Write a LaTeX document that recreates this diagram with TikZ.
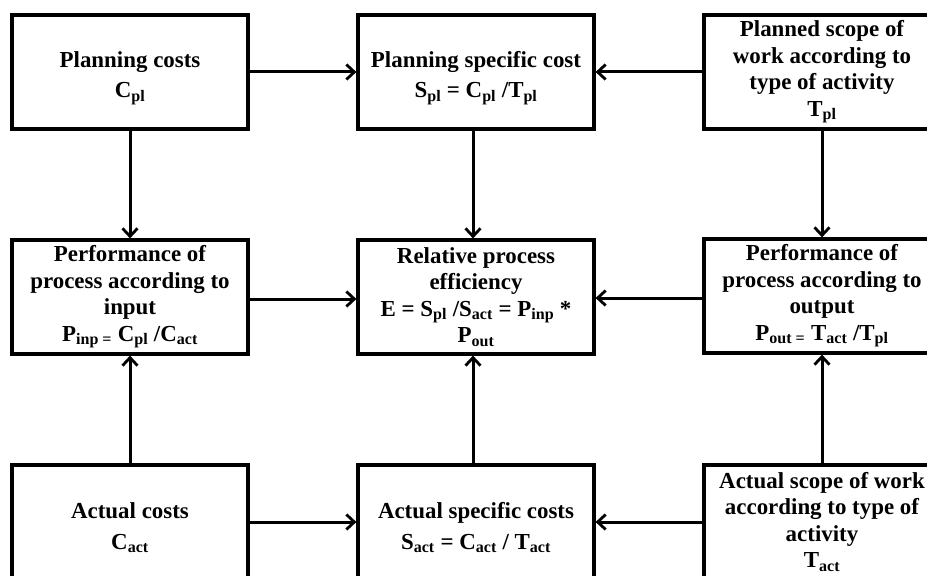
\documentclass[tikz,border=0pt]{standalone}
\usepackage{fontspec}
\setmainfont{Liberation Serif}
\usetikzlibrary{arrows.meta}
\newcommand{\downstrut}{\rule{0pt}{28bp}}
\begin{document}
\begin{tikzpicture}[x=1bp,y=-1bp,
  box/.style={draw=black, line width=3.2bp, minimum width=236bp, minimum height=114bp,
    inner sep=0pt, align=center, font=\fontsize{23}{26.5}\selectfont\bfseries},
  conn/.style={line width=3bp, -{Straight Barb[length=8bp,width=15bp,line width=2.8bp]}}]
\useasboundingbox (0,0) rectangle (927,576);
\node[box] (tl) at (130,72) {\downstrut Planning costs\\[4bp]C\textsubscript{pl}};
\node[box] (tm) at (476,72) {\downstrut Planning specific cost\\[4bp]S\textsubscript{pl} = C\textsubscript{pl} /T\textsubscript{pl}};
\node[box] (tr) at (822,72) {Planned scope of\\work according to\\type of activity\\T\textsubscript{pl}};
\node[box] (ml) at (130,297) {Performance of\\process according to\\input\\P\textsubscript{inp =} C\textsubscript{pl} /C\textsubscript{act}};
\node[box] (mc) at (476,297) {Relative process\\efficiency\\E = S\textsubscript{pl} /S\textsubscript{act} = P\textsubscript{inp} *\\P\textsubscript{out}};
\node[box] (mr) at (822,296) {Performance of\\process according to\\output\\P\textsubscript{out =} T\textsubscript{act} /T\textsubscript{pl}};
\node[box] (bl) at (130,522) {\downstrut Actual costs\\[4bp]C\textsubscript{act}};
\node[box] (bm) at (476,522) {\downstrut Actual specific costs\\[4bp]S\textsubscript{act} = C\textsubscript{act} / T\textsubscript{act}};
\node[box] (br) at (822,522) {Actual scope of work\\according to type of\\activity\\T\textsubscript{act}};
% horizontal
\draw[conn] (tl.east) -- (tm.west);
\draw[conn] (tr.west) -- (tm.east);
\draw[conn] ([yshift=-2bp]ml.east) -- ([yshift=-2bp]mc.west);
\draw[conn] ([yshift=-2bp]mr.west) -- ([yshift=-2bp]mr.west -| mc.east);
\draw[conn] (bl.east) -- (bm.west);
\draw[conn] (br.west) -- (bm.east);
% vertical
\draw[conn] (tl.south) -- (ml.north);
\draw[conn] ([xshift=-3bp]tm.south) -- ([xshift=-3bp]mc.north);
\draw[conn] (tr.south) -- (mr.north);
\draw[conn] (bl.north) -- (ml.south);
\draw[conn] ([xshift=-3bp]bm.north) -- ([xshift=-3bp]mc.south);
\draw[conn] (br.north) -- (mr.south);
\end{tikzpicture}
\end{document}
